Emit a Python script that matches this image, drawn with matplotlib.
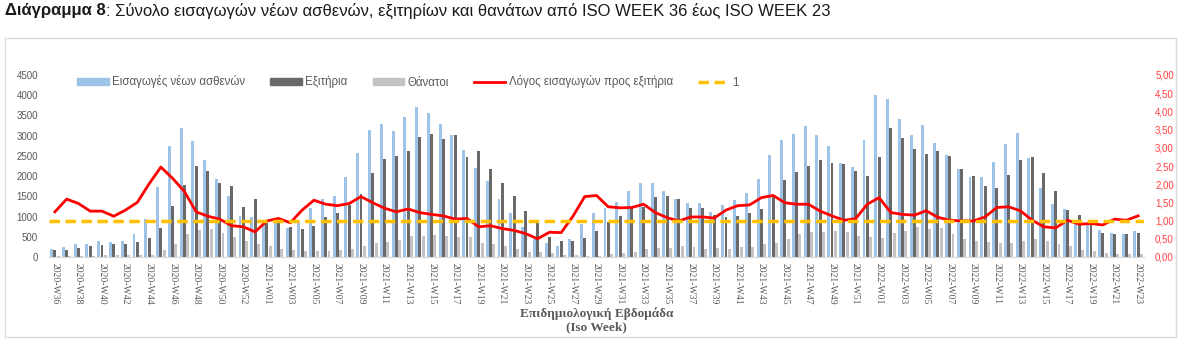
import matplotlib
matplotlib.use('Agg')
import matplotlib.pyplot as plt
from matplotlib.patches import Rectangle, Patch
from matplotlib.lines import Line2D
from matplotlib.ticker import FuncFormatter
import numpy as np

# ISO weeks 2020-W36 .. 2022-W23
weeks = ([f'2020-W{w:02d}' for w in range(36, 54)]
         + [f'2021-W{w:02d}' for w in range(1, 53)]
         + [f'2022-W{w:02d}' for w in range(1, 24)])

admissions = [200, 250, 315, 320, 390, 370, 400, 575, 930, 1740, 2750, 3190, 2860, 2400, 1930, 1510, 1020, 990,
              910, 870, 720, 870, 1210, 1425, 1515, 1990, 2570, 3130, 3300, 3125, 3455, 3700, 3565, 3280, 3020, 2640,
              2190, 1880, 1435, 1100, 745, 455, 350, 265, 440, 810, 1100, 1200, 1370, 1630, 1820, 1820, 1630, 1435,
              1325, 1325, 1120, 1290, 1410, 1575, 1930, 2520, 2885, 3050, 3250, 3025, 2745, 2320, 2215, 2890,
              3995, 3895, 3420, 3015, 3275, 2825, 2520, 2180, 1970, 1970, 2345, 2800, 3065, 2455, 1715, 1310, 1175,
              810, 795, 665, 605, 580, 655]

discharges = [170, 170, 224, 265, 300, 315, 315, 380, 470, 705, 1270, 1780, 2260, 2130, 1830, 1750, 1245, 1430,
              855, 855, 745, 690, 770, 980, 1080, 1285, 1560, 2070, 2420, 2490, 2610, 2975, 3050, 2925, 3010, 2470,
              2630, 2180, 1820, 1510, 1135, 855, 500, 390, 390, 480, 655, 870, 1010, 1200, 1245, 1490, 1510, 1435,
              1210, 1220, 1035, 995, 1010, 1100, 1195, 1490, 1905, 2095, 2255, 2405, 2335, 2305, 2130, 2000,
              2470, 3190, 2950, 2675, 2550, 2625, 2500, 2180, 2005, 1755, 1705, 2020, 2405, 2470, 2070, 1630, 1160,
              1030, 795, 590, 580, 580, 595]

deaths = [15, 20, 30, 30, 40, 40, 50, 40, 40, 165, 315, 580, 670, 690, 600, 500, 390, 315,
          265, 190, 165, 140, 150, 140, 165, 210, 265, 350, 375, 430, 515, 515, 550, 515, 500, 500,
          350, 330, 265, 210, 125, 115, 100, 40, 40, 30, 25, 65, 100, 125, 190, 215, 230, 265,
          255, 210, 230, 200, 240, 240, 315, 350, 455, 580, 620, 620, 645, 615, 520, 500,
          480, 600, 655, 730, 690, 705, 565, 440, 390, 375, 350, 350, 390, 440, 390, 315, 265,
          165, 140, 110, 85, 65, 65]

ratio = [1.24, 1.59, 1.47, 1.26, 1.26, 1.12, 1.29, 1.50, 2.01, 2.47, 2.16, 1.80, 1.24, 1.12, 1.04, 0.86, 0.83, 0.69,
         0.99, 1.06, 0.94, 1.29, 1.56, 1.45, 1.41, 1.47, 1.66, 1.49, 1.34, 1.24, 1.32, 1.22, 1.17, 1.13, 1.04, 1.06,
         0.83, 0.86, 0.78, 0.73, 0.64, 0.50, 0.68, 0.67, 1.12, 1.66, 1.69, 1.38, 1.35, 1.36, 1.45, 1.22, 1.08, 0.99,
         1.10, 1.10, 1.07, 1.29, 1.41, 1.43, 1.63, 1.69, 1.49, 1.45, 1.45, 1.26, 1.13, 1.01, 1.05, 1.45,
         1.63, 1.22, 1.17, 1.15, 1.27, 1.09, 1.01, 0.99, 0.99, 1.10, 1.36, 1.38, 1.27, 1.01, 0.83, 0.80, 1.01,
         0.90, 0.92, 0.88, 1.04, 1.01, 1.13]

reference_level = 1

c_adm = '#9DC3E6'
c_dis = '#696969'
c_dth = '#C3C3C3'
c_text = '#595959'

plt.rcParams['font.family'] = ['Liberation Sans', 'DejaVu Sans']

fig = plt.figure(figsize=(11.81, 3.51), dpi=100)

# chart frame
fig.patches.append(Rectangle((5 / 1181, 1 - 337 / 351), 1171 / 1181, 299 / 351,
                             transform=fig.transFigure, fill=False, edgecolor='#D9D9D9', lw=1))

ax = fig.add_axes([49 / 1181, 1 - 257 / 351, (1144 - 49) / 1181, (257 - 75) / 351])
x = np.arange(len(weeks))
w = 0.25
ax.bar(x - 0.28, admissions, w, color=c_adm)
ax.bar(x, discharges, w, color=c_dis)
ax.bar(x + 0.28, deaths, w, color=c_dth)
ax.set_xlim(-0.5, len(weeks) - 0.5)
ax.set_ylim(0, 4500)
ax.set_yticks(range(0, 4501, 500))
ax.tick_params(axis='y', length=0, labelsize=7, labelcolor=c_text, pad=8)
ax.set_xticks(x[::2])
ax.set_xticklabels(weeks[::2], rotation=-90, fontsize=7, color=c_text, family='Liberation Serif')
ax.tick_params(axis='x', length=0, pad=4)
for s in ['top', 'left', 'right']:
    ax.spines[s].set_visible(False)
ax.spines['bottom'].set_color('#D9D9D9')
ax.set_xlabel('Επιδημιολογική Εβδομάδα\n(Iso Week)', family='Liberation Serif', fontweight='bold',
              fontsize=9.5, color=c_text, labelpad=2)

ax2 = ax.twinx()
ax2.plot(x, ratio, color='#FF0000', lw=2)
ax2.plot([-0.5, len(weeks) - 0.5], [reference_level] * 2, color='#FFC000', lw=2.5, dashes=(3, 1.6))
ax2.set_ylim(0, 5)
ax2.set_yticks(np.arange(0, 5.01, 0.5))
ax2.yaxis.set_major_formatter(FuncFormatter(lambda v, p: f'{v:.2f}'.replace('.', ',')))
ax2.tick_params(axis='y', length=0, labelsize=7, labelcolor='#FF4040', pad=8)
for s in ['top', 'left', 'right', 'bottom']:
    ax2.spines[s].set_visible(False)

handles = [Patch(color=c_adm), Patch(color=c_dis), Patch(color=c_dth),
           Line2D([], [], color='#FF0000', lw=2),
           Line2D([], [], color='#FFC000', lw=2.5, dashes=(3, 1.6))]
labels = ['Εισαγωγές νέων ασθενών', 'Εξιτήρια', 'Θάνατοι', 'Λόγος εισαγωγών προς εξιτήρια', '1']
leg = fig.legend(handles, labels, ncol=5, frameon=False, loc='center left',
                 bbox_to_anchor=(67 / 1181, 1 - 82 / 351), fontsize=8.3, handlelength=2.7,
                 handleheight=0.6, columnspacing=2.2, handletextpad=0.3)
for t in leg.get_texts():
    t.set_color(c_text)

# title in two parts
t1 = fig.text(5 / 1181, 1 - 11 / 351, 'Διάγραμμα 8', fontsize=12, fontweight='bold', va='center', color='#1a1a1a')
fig.canvas.draw()
bb = t1.get_window_extent(fig.canvas.get_renderer())
fig.text(bb.x1 / 1181, 1 - 11 / 351,
         ': Σύνολο εισαγωγών νέων ασθενών, εξιτηρίων και θανάτων από ISO WEEK 36 έως ISO WEEK 23',
         fontsize=12, va='center', color='#1a1a1a')

fig.savefig('out.png', dpi=100)
